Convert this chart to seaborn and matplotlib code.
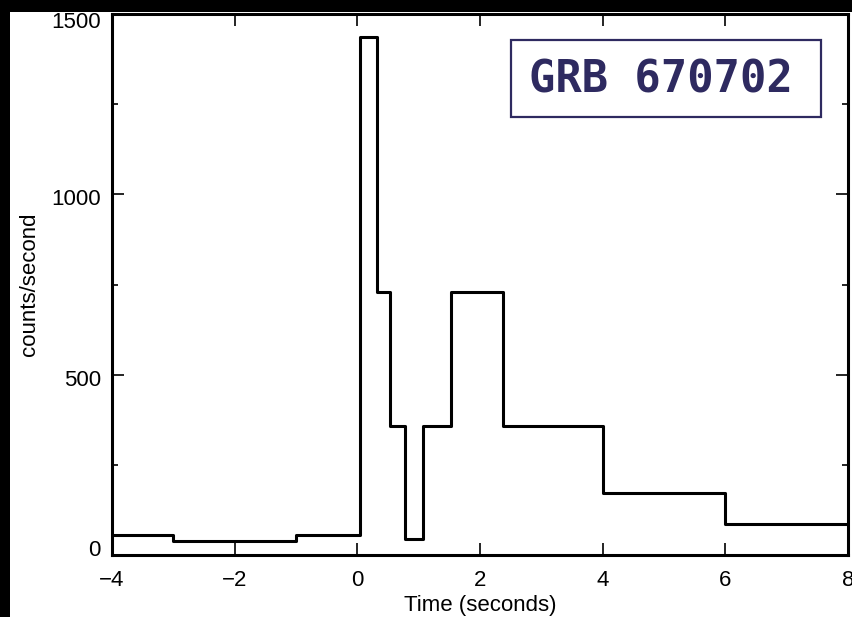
import numpy as np
import pandas as pd
import matplotlib
matplotlib.use("Agg")
import matplotlib.pyplot as plt
import matplotlib.transforms as mtrans
import seaborn as sns
from matplotlib.patches import Rectangle

# --- data ---
bin_edges = [-4.0, -3.0, -1.0, 0.05, 0.32, 0.54, 0.78, 1.07, 1.52, 2.38, 4.0, 6.0, 8.0]
rates = [55, 39, 55, 1435, 728, 358, 45, 358, 728, 358, 172, 86]
x_ticks = [-4, -2, 0, 2, 4, 6, 8]
y_ticks = [0, 500, 1000, 1500]
y_minor = [250, 750, 1250]
title_text = "GRB 670702"
x_label = "Time (seconds)"
y_label = "counts/second"

df = pd.DataFrame({"time": bin_edges, "rate": rates + [rates[-1]]})

sns.set_theme(style="white")
plt.rcParams["font.family"] = ["Liberation Sans", "DejaVu Sans"]

W, H = 853, 617
fig = plt.figure(figsize=(W / 100, H / 100), dpi=100, facecolor="black")
# white drawing area inside the black frame
fig.patches.append(Rectangle((10 / W, 0), 1 - 10 / W, 1 - 12 / H,
                             transform=fig.transFigure, facecolor="white",
                             edgecolor="none", zorder=-10))
ax = fig.add_axes([112 / W, (H - 555) / H, (848 - 112) / W, (555 - 14) / H])
ax.set_facecolor("white")

sns.lineplot(data=df, x="time", y="rate", drawstyle="steps-post", color="black",
             linewidth=2.2, estimator=None, sort=False, ax=ax)

ax.set_xlim(-4, 8)
ax.set_ylim(0, 1500)
ax.set_xticks(x_ticks)
ax.set_yticks(y_ticks)
ax.set_yticks(y_minor, minor=True)
ax.tick_params(axis="both", which="major", direction="in", length=8.5, width=1.2,
               top=True, right=True, bottom=True, left=True, labelsize=16,
               color="black", labelcolor="black")
ax.tick_params(axis="x", which="major", pad=11)
ax.tick_params(axis="y", which="major", pad=8)
ax.tick_params(axis="y", which="minor", direction="in", length=4.5, width=1.2,
               left=True, right=True, color="black")
for s in ax.spines.values():
    s.set_color("black")
    s.set_linewidth(2.2)

ax.set_xlabel(x_label, fontsize=16, color="black", labelpad=3)
ax.set_ylabel(y_label, fontsize=16, color="black")

# label box
navy = "#2e2a60"
ax.add_patch(Rectangle((0.542, 0.81), 0.421, 0.142, transform=ax.transAxes,
                       facecolor="white", edgecolor=navy, linewidth=1.6, zorder=5))
ax.text(0.746, 0.878, title_text, transform=ax.transAxes, ha="center", va="center",
        fontsize=31.5, fontweight="bold", color=navy, family="DejaVu Sans Mono", zorder=6)

# IDL-like vertical nudges of the y tick labels (in pixels; positive = down)
fig.canvas.draw()
nudges = [-7, 3, 3, 6]
for tick, dy in zip(ax.yaxis.get_major_ticks(), nudges):
    lab = tick.label1
    lab.set_transform(lab.get_transform() +
                      mtrans.ScaledTranslation(0, -dy / 100, fig.dpi_scale_trans))

# y-label position fixed in pixels to match the reference
ax.yaxis.set_label_coords(-(112 - 40) / (848 - 112), 0.5)

fig.savefig("out.png", dpi=100, facecolor=fig.get_facecolor())
